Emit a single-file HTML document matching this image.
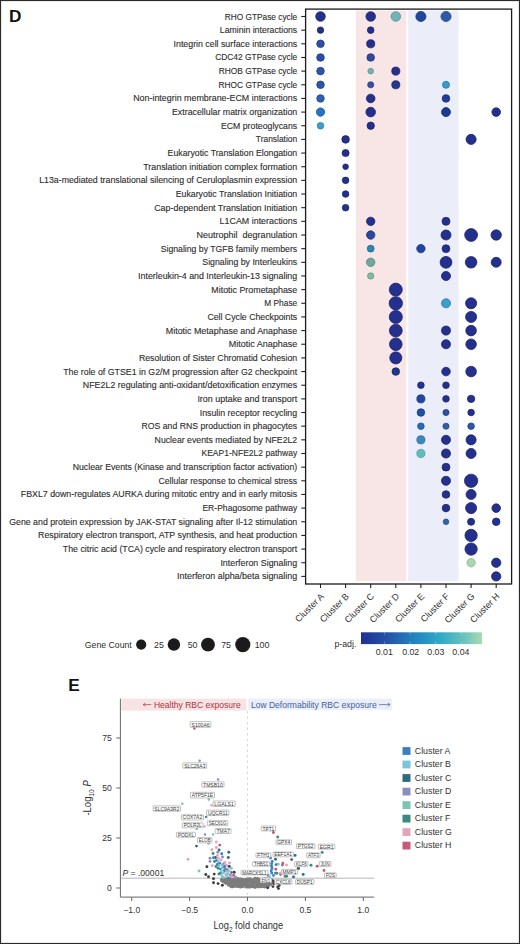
<!DOCTYPE html><html><head><meta charset="utf-8"><style>
html,body{margin:0;padding:0;background:#fff;}body{width:520px;height:944px;overflow:hidden;position:relative;}
svg{position:absolute;left:0;top:0;display:block;}
text{font-family:"Liberation Sans",sans-serif;}
</style></head><body>
<svg width="520" height="944" viewBox="0 0 520 944">
<rect x="0" y="0" width="520" height="944" fill="#fff"/>
<rect x="355.8" y="10.6" width="50.5" height="570.6" fill="#f8e6e6"/>
<rect x="408.2" y="10.6" width="50.3" height="570.6" fill="#ebeef9"/>
<g fill="#2e2e2e" font-size="8.6" stroke="#2e2e2e" stroke-width="0.12">
<text x="224.8" y="19.50" textLength="72.4" lengthAdjust="spacingAndGlyphs">RHO GTPase cycle</text>
<text x="219.8" y="33.16" textLength="77.4" lengthAdjust="spacingAndGlyphs">Laminin interactions</text>
<text x="173.6" y="46.81" textLength="123.6" lengthAdjust="spacingAndGlyphs">Integrin cell surface interactions</text>
<text x="215.2" y="60.47" textLength="82.0" lengthAdjust="spacingAndGlyphs">CDC42 GTPase cycle</text>
<text x="218.8" y="74.12" textLength="78.4" lengthAdjust="spacingAndGlyphs">RHOB GTPase cycle</text>
<text x="218.6" y="87.78" textLength="78.6" lengthAdjust="spacingAndGlyphs">RHOC GTPase cycle</text>
<text x="133.2" y="101.44" textLength="164.0" lengthAdjust="spacingAndGlyphs">Non-integrin membrane-ECM interactions</text>
<text x="172.0" y="115.09" textLength="125.2" lengthAdjust="spacingAndGlyphs">Extracellular matrix organization</text>
<text x="220.9" y="128.75" textLength="76.3" lengthAdjust="spacingAndGlyphs">ECM proteoglycans</text>
<text x="255.8" y="142.40" textLength="41.4" lengthAdjust="spacingAndGlyphs">Translation</text>
<text x="167.6" y="156.06" textLength="129.6" lengthAdjust="spacingAndGlyphs">Eukaryotic Translation Elongation</text>
<text x="143.2" y="169.72" textLength="154.0" lengthAdjust="spacingAndGlyphs">Translation initiation complex formation</text>
<text x="39.2" y="183.37" textLength="258.0" lengthAdjust="spacingAndGlyphs">L13a-mediated translational silencing of Ceruloplasmin expression</text>
<text x="175.7" y="197.03" textLength="121.5" lengthAdjust="spacingAndGlyphs">Eukaryotic Translation Initiation</text>
<text x="154.2" y="210.68" textLength="143.0" lengthAdjust="spacingAndGlyphs">Cap-dependent Translation Initiation</text>
<text x="219.6" y="224.34" textLength="77.6" lengthAdjust="spacingAndGlyphs">L1CAM interactions</text>
<text x="196.5" y="238.00" textLength="100.7" lengthAdjust="spacingAndGlyphs">Neutrophil  degranulation</text>
<text x="160.7" y="251.65" textLength="136.5" lengthAdjust="spacingAndGlyphs">Signaling by TGFB family members</text>
<text x="202.3" y="265.31" textLength="94.9" lengthAdjust="spacingAndGlyphs">Signaling by Interleukins</text>
<text x="138.1" y="278.96" textLength="159.1" lengthAdjust="spacingAndGlyphs">Interleukin-4 and Interleukin-13 signaling</text>
<text x="211.3" y="292.62" textLength="85.9" lengthAdjust="spacingAndGlyphs">Mitotic Prometaphase</text>
<text x="264.3" y="306.28" textLength="32.9" lengthAdjust="spacingAndGlyphs">M Phase</text>
<text x="207.4" y="319.93" textLength="89.8" lengthAdjust="spacingAndGlyphs">Cell Cycle Checkpoints</text>
<text x="165.8" y="333.59" textLength="131.4" lengthAdjust="spacingAndGlyphs">Mitotic Metaphase and Anaphase</text>
<text x="228.8" y="347.24" textLength="68.4" lengthAdjust="spacingAndGlyphs">Mitotic Anaphase</text>
<text x="138.9" y="360.90" textLength="158.3" lengthAdjust="spacingAndGlyphs">Resolution of Sister Chromatid Cohesion</text>
<text x="63.2" y="374.56" textLength="234.0" lengthAdjust="spacingAndGlyphs">The role of GTSE1 in G2/M progression after G2 checkpoint</text>
<text x="82.8" y="388.21" textLength="214.4" lengthAdjust="spacingAndGlyphs">NFE2L2 regulating anti-oxidant/detoxification enzymes</text>
<text x="197.4" y="401.87" textLength="99.8" lengthAdjust="spacingAndGlyphs">Iron uptake and transport</text>
<text x="199.7" y="415.52" textLength="97.5" lengthAdjust="spacingAndGlyphs">Insulin receptor recycling</text>
<text x="141.5" y="429.18" textLength="155.7" lengthAdjust="spacingAndGlyphs">ROS and RNS production in phagocytes</text>
<text x="154.6" y="442.84" textLength="142.6" lengthAdjust="spacingAndGlyphs">Nuclear events mediated by NFE2L2</text>
<text x="201.5" y="456.49" textLength="95.7" lengthAdjust="spacingAndGlyphs">KEAP1-NFE2L2 pathway</text>
<text x="72.7" y="470.15" textLength="224.5" lengthAdjust="spacingAndGlyphs">Nuclear Events (Kinase and transcription factor activation)</text>
<text x="158.6" y="483.80" textLength="138.6" lengthAdjust="spacingAndGlyphs">Cellular response to chemical stress</text>
<text x="20.8" y="497.46" textLength="276.4" lengthAdjust="spacingAndGlyphs">FBXL7 down-regulates AURKA during mitotic entry and in early mitosis</text>
<text x="202.4" y="511.12" textLength="94.8" lengthAdjust="spacingAndGlyphs">ER-Phagosome pathway</text>
<text x="9.2" y="524.77" textLength="288.0" lengthAdjust="spacingAndGlyphs">Gene and protein expression by JAK-STAT signaling after Il-12 stimulation</text>
<text x="38.1" y="538.43" textLength="259.1" lengthAdjust="spacingAndGlyphs">Respiratory electron transport, ATP synthesis, and heat production</text>
<text x="62.8" y="552.08" textLength="234.4" lengthAdjust="spacingAndGlyphs">The citric acid (TCA) cycle and respiratory electron transport</text>
<text x="220.4" y="565.74" textLength="76.8" lengthAdjust="spacingAndGlyphs">Interferon Signaling</text>
<text x="177.0" y="579.40" textLength="120.2" lengthAdjust="spacingAndGlyphs">Interferon alpha/beta signaling</text>
</g>
<g stroke="#222" stroke-width="1.1">
<line x1="301.3" y1="16.50" x2="305.6" y2="16.50"/>
<line x1="301.3" y1="30.16" x2="305.6" y2="30.16"/>
<line x1="301.3" y1="43.81" x2="305.6" y2="43.81"/>
<line x1="301.3" y1="57.47" x2="305.6" y2="57.47"/>
<line x1="301.3" y1="71.12" x2="305.6" y2="71.12"/>
<line x1="301.3" y1="84.78" x2="305.6" y2="84.78"/>
<line x1="301.3" y1="98.44" x2="305.6" y2="98.44"/>
<line x1="301.3" y1="112.09" x2="305.6" y2="112.09"/>
<line x1="301.3" y1="125.75" x2="305.6" y2="125.75"/>
<line x1="301.3" y1="139.40" x2="305.6" y2="139.40"/>
<line x1="301.3" y1="153.06" x2="305.6" y2="153.06"/>
<line x1="301.3" y1="166.72" x2="305.6" y2="166.72"/>
<line x1="301.3" y1="180.37" x2="305.6" y2="180.37"/>
<line x1="301.3" y1="194.03" x2="305.6" y2="194.03"/>
<line x1="301.3" y1="207.68" x2="305.6" y2="207.68"/>
<line x1="301.3" y1="221.34" x2="305.6" y2="221.34"/>
<line x1="301.3" y1="235.00" x2="305.6" y2="235.00"/>
<line x1="301.3" y1="248.65" x2="305.6" y2="248.65"/>
<line x1="301.3" y1="262.31" x2="305.6" y2="262.31"/>
<line x1="301.3" y1="275.96" x2="305.6" y2="275.96"/>
<line x1="301.3" y1="289.62" x2="305.6" y2="289.62"/>
<line x1="301.3" y1="303.28" x2="305.6" y2="303.28"/>
<line x1="301.3" y1="316.93" x2="305.6" y2="316.93"/>
<line x1="301.3" y1="330.59" x2="305.6" y2="330.59"/>
<line x1="301.3" y1="344.24" x2="305.6" y2="344.24"/>
<line x1="301.3" y1="357.90" x2="305.6" y2="357.90"/>
<line x1="301.3" y1="371.56" x2="305.6" y2="371.56"/>
<line x1="301.3" y1="385.21" x2="305.6" y2="385.21"/>
<line x1="301.3" y1="398.87" x2="305.6" y2="398.87"/>
<line x1="301.3" y1="412.52" x2="305.6" y2="412.52"/>
<line x1="301.3" y1="426.18" x2="305.6" y2="426.18"/>
<line x1="301.3" y1="439.84" x2="305.6" y2="439.84"/>
<line x1="301.3" y1="453.49" x2="305.6" y2="453.49"/>
<line x1="301.3" y1="467.15" x2="305.6" y2="467.15"/>
<line x1="301.3" y1="480.80" x2="305.6" y2="480.80"/>
<line x1="301.3" y1="494.46" x2="305.6" y2="494.46"/>
<line x1="301.3" y1="508.12" x2="305.6" y2="508.12"/>
<line x1="301.3" y1="521.77" x2="305.6" y2="521.77"/>
<line x1="301.3" y1="535.43" x2="305.6" y2="535.43"/>
<line x1="301.3" y1="549.08" x2="305.6" y2="549.08"/>
<line x1="301.3" y1="562.74" x2="305.6" y2="562.74"/>
<line x1="301.3" y1="576.40" x2="305.6" y2="576.40"/>
<line x1="320.50" y1="584.0" x2="320.50" y2="588"/>
<line x1="345.60" y1="584.0" x2="345.60" y2="588"/>
<line x1="370.70" y1="584.0" x2="370.70" y2="588"/>
<line x1="395.80" y1="584.0" x2="395.80" y2="588"/>
<line x1="420.90" y1="584.0" x2="420.90" y2="588"/>
<line x1="446.00" y1="584.0" x2="446.00" y2="588"/>
<line x1="471.10" y1="584.0" x2="471.10" y2="588"/>
<line x1="496.20" y1="584.0" x2="496.20" y2="588"/>
</g>
<g>
<circle cx="320.50" cy="16.50" r="4.80" fill="#24308e" stroke="#182061" stroke-width="0.75"/>
<circle cx="370.70" cy="16.50" r="4.80" fill="#24308e" stroke="#182061" stroke-width="0.75"/>
<circle cx="395.80" cy="16.50" r="4.80" fill="#72b3b6" stroke="#5a8e91" stroke-width="0.75"/>
<circle cx="420.90" cy="16.50" r="5.05" fill="#2045a0" stroke="#16306f" stroke-width="0.75"/>
<circle cx="446.00" cy="16.50" r="5.05" fill="#2d5ba8" stroke="#204178" stroke-width="0.75"/>
<circle cx="320.50" cy="30.16" r="3.20" fill="#24308e" stroke="#182061" stroke-width="0.75"/>
<circle cx="370.70" cy="30.16" r="3.30" fill="#24308e" stroke="#182061" stroke-width="0.75"/>
<circle cx="320.50" cy="43.81" r="3.80" fill="#2d4fa5" stroke="#203875" stroke-width="0.75"/>
<circle cx="370.70" cy="43.81" r="4.05" fill="#24308e" stroke="#182061" stroke-width="0.75"/>
<circle cx="320.50" cy="57.47" r="3.80" fill="#2a4ea8" stroke="#1d3777" stroke-width="0.75"/>
<circle cx="370.70" cy="57.47" r="3.80" fill="#33489a" stroke="#24326c" stroke-width="0.75"/>
<circle cx="320.50" cy="71.12" r="3.80" fill="#2d55a8" stroke="#203c78" stroke-width="0.75"/>
<circle cx="370.70" cy="71.12" r="2.80" fill="#70b4b8" stroke="#598f92" stroke-width="0.75"/>
<circle cx="395.80" cy="71.12" r="4.05" fill="#24308e" stroke="#182061" stroke-width="0.75"/>
<circle cx="320.50" cy="84.78" r="3.80" fill="#2d55a8" stroke="#203c78" stroke-width="0.75"/>
<circle cx="370.70" cy="84.78" r="3.05" fill="#3550a5" stroke="#253976" stroke-width="0.75"/>
<circle cx="395.80" cy="84.78" r="4.05" fill="#233a90" stroke="#182763" stroke-width="0.75"/>
<circle cx="446.00" cy="84.78" r="3.55" fill="#3a9ad0" stroke="#2c76a0" stroke-width="0.75"/>
<circle cx="320.50" cy="98.44" r="3.80" fill="#2f5fb0" stroke="#22447f" stroke-width="0.75"/>
<circle cx="370.70" cy="98.44" r="4.30" fill="#24308e" stroke="#182061" stroke-width="0.75"/>
<circle cx="446.00" cy="98.44" r="3.80" fill="#1f3f98" stroke="#152b69" stroke-width="0.75"/>
<circle cx="320.50" cy="112.09" r="4.20" fill="#2474bf" stroke="#1a558c" stroke-width="0.75"/>
<circle cx="370.70" cy="112.09" r="4.80" fill="#24308e" stroke="#182061" stroke-width="0.75"/>
<circle cx="446.00" cy="112.09" r="4.50" fill="#1d3a93" stroke="#132764" stroke-width="0.75"/>
<circle cx="496.20" cy="112.09" r="4.30" fill="#24308e" stroke="#182061" stroke-width="0.75"/>
<circle cx="320.50" cy="125.75" r="3.30" fill="#3a9fd0" stroke="#2c7ba1" stroke-width="0.75"/>
<circle cx="370.70" cy="125.75" r="3.70" fill="#24308e" stroke="#182061" stroke-width="0.75"/>
<circle cx="345.60" cy="139.40" r="3.80" fill="#24308e" stroke="#182061" stroke-width="0.75"/>
<circle cx="471.10" cy="139.40" r="5.05" fill="#24308e" stroke="#182061" stroke-width="0.75"/>
<circle cx="345.60" cy="153.06" r="3.55" fill="#24308e" stroke="#182061" stroke-width="0.75"/>
<circle cx="345.60" cy="166.72" r="2.80" fill="#24308e" stroke="#182061" stroke-width="0.75"/>
<circle cx="345.60" cy="180.37" r="3.30" fill="#24308e" stroke="#182061" stroke-width="0.75"/>
<circle cx="345.60" cy="194.03" r="3.30" fill="#24308e" stroke="#182061" stroke-width="0.75"/>
<circle cx="345.60" cy="207.68" r="3.30" fill="#24308e" stroke="#182061" stroke-width="0.75"/>
<circle cx="370.70" cy="221.34" r="4.20" fill="#24308e" stroke="#182061" stroke-width="0.75"/>
<circle cx="446.00" cy="221.34" r="4.00" fill="#24308e" stroke="#182061" stroke-width="0.75"/>
<circle cx="370.70" cy="235.00" r="4.20" fill="#2c47a0" stroke="#1f3270" stroke-width="0.75"/>
<circle cx="446.00" cy="235.00" r="5.00" fill="#24308e" stroke="#182061" stroke-width="0.75"/>
<circle cx="471.10" cy="235.00" r="6.40" fill="#24308e" stroke="#182061" stroke-width="0.75"/>
<circle cx="496.20" cy="235.00" r="5.20" fill="#24308e" stroke="#182061" stroke-width="0.75"/>
<circle cx="370.70" cy="248.65" r="3.45" fill="#2b87b4" stroke="#1f6485" stroke-width="0.75"/>
<circle cx="420.90" cy="248.65" r="4.20" fill="#2145a0" stroke="#17306f" stroke-width="0.75"/>
<circle cx="446.00" cy="248.65" r="3.90" fill="#24308e" stroke="#182061" stroke-width="0.75"/>
<circle cx="370.70" cy="262.31" r="4.20" fill="#6ea99c" stroke="#558379" stroke-width="0.75"/>
<circle cx="446.00" cy="262.31" r="5.90" fill="#24308e" stroke="#182061" stroke-width="0.75"/>
<circle cx="471.10" cy="262.31" r="5.80" fill="#24308e" stroke="#182061" stroke-width="0.75"/>
<circle cx="496.20" cy="262.31" r="5.00" fill="#24308e" stroke="#182061" stroke-width="0.75"/>
<circle cx="370.70" cy="275.96" r="3.15" fill="#80bda4" stroke="#669783" stroke-width="0.75"/>
<circle cx="446.00" cy="275.96" r="4.55" fill="#24308e" stroke="#182061" stroke-width="0.75"/>
<circle cx="395.80" cy="289.62" r="6.50" fill="#24308e" stroke="#182061" stroke-width="0.75"/>
<circle cx="395.80" cy="303.28" r="6.65" fill="#24308e" stroke="#182061" stroke-width="0.75"/>
<circle cx="446.00" cy="303.28" r="4.55" fill="#3a9fcc" stroke="#2c7a9d" stroke-width="0.75"/>
<circle cx="471.10" cy="303.28" r="5.55" fill="#24308e" stroke="#182061" stroke-width="0.75"/>
<circle cx="395.80" cy="316.93" r="6.55" fill="#24308e" stroke="#182061" stroke-width="0.75"/>
<circle cx="471.10" cy="316.93" r="5.55" fill="#24308e" stroke="#182061" stroke-width="0.75"/>
<circle cx="395.80" cy="330.59" r="6.40" fill="#24308e" stroke="#182061" stroke-width="0.75"/>
<circle cx="446.00" cy="330.59" r="4.55" fill="#24308e" stroke="#182061" stroke-width="0.75"/>
<circle cx="471.10" cy="330.59" r="5.30" fill="#24308e" stroke="#182061" stroke-width="0.75"/>
<circle cx="395.80" cy="344.24" r="6.30" fill="#24308e" stroke="#182061" stroke-width="0.75"/>
<circle cx="446.00" cy="344.24" r="4.55" fill="#24308e" stroke="#182061" stroke-width="0.75"/>
<circle cx="471.10" cy="344.24" r="5.30" fill="#24308e" stroke="#182061" stroke-width="0.75"/>
<circle cx="395.80" cy="357.90" r="6.05" fill="#24308e" stroke="#182061" stroke-width="0.75"/>
<circle cx="395.80" cy="371.56" r="3.80" fill="#1f3590" stroke="#152462" stroke-width="0.75"/>
<circle cx="446.00" cy="371.56" r="4.30" fill="#24308e" stroke="#182061" stroke-width="0.75"/>
<circle cx="471.10" cy="371.56" r="5.30" fill="#24308e" stroke="#182061" stroke-width="0.75"/>
<circle cx="420.90" cy="385.21" r="3.30" fill="#24308e" stroke="#182061" stroke-width="0.75"/>
<circle cx="446.00" cy="385.21" r="3.30" fill="#24308e" stroke="#182061" stroke-width="0.75"/>
<circle cx="420.90" cy="398.87" r="4.05" fill="#2147a0" stroke="#173170" stroke-width="0.75"/>
<circle cx="446.00" cy="398.87" r="3.30" fill="#24308e" stroke="#182061" stroke-width="0.75"/>
<circle cx="471.10" cy="398.87" r="3.70" fill="#24308e" stroke="#182061" stroke-width="0.75"/>
<circle cx="420.90" cy="412.52" r="3.80" fill="#2050a5" stroke="#163874" stroke-width="0.75"/>
<circle cx="446.00" cy="412.52" r="3.05" fill="#2a50a8" stroke="#1d3977" stroke-width="0.75"/>
<circle cx="471.10" cy="412.52" r="3.30" fill="#24308e" stroke="#182061" stroke-width="0.75"/>
<circle cx="420.90" cy="426.18" r="3.30" fill="#2a6ab5" stroke="#1e4d84" stroke-width="0.75"/>
<circle cx="446.00" cy="426.18" r="3.05" fill="#2f5fa8" stroke="#214479" stroke-width="0.75"/>
<circle cx="471.10" cy="426.18" r="3.30" fill="#2d58a8" stroke="#203f78" stroke-width="0.75"/>
<circle cx="420.90" cy="439.84" r="4.05" fill="#3a88c0" stroke="#2b6691" stroke-width="0.75"/>
<circle cx="446.00" cy="439.84" r="4.55" fill="#24308e" stroke="#182061" stroke-width="0.75"/>
<circle cx="471.10" cy="439.84" r="5.05" fill="#24308e" stroke="#182061" stroke-width="0.75"/>
<circle cx="420.90" cy="453.49" r="4.05" fill="#5fbfbf" stroke="#4b9898" stroke-width="0.75"/>
<circle cx="446.00" cy="453.49" r="4.55" fill="#24308e" stroke="#182061" stroke-width="0.75"/>
<circle cx="471.10" cy="453.49" r="5.05" fill="#24308e" stroke="#182061" stroke-width="0.75"/>
<circle cx="446.00" cy="467.15" r="3.90" fill="#24308e" stroke="#182061" stroke-width="0.75"/>
<circle cx="446.00" cy="480.80" r="4.55" fill="#24308e" stroke="#182061" stroke-width="0.75"/>
<circle cx="471.10" cy="480.80" r="6.65" fill="#24308e" stroke="#182061" stroke-width="0.75"/>
<circle cx="446.00" cy="494.46" r="3.80" fill="#24308e" stroke="#182061" stroke-width="0.75"/>
<circle cx="471.10" cy="494.46" r="5.05" fill="#24308e" stroke="#182061" stroke-width="0.75"/>
<circle cx="446.00" cy="508.12" r="3.80" fill="#24308e" stroke="#182061" stroke-width="0.75"/>
<circle cx="471.10" cy="508.12" r="5.55" fill="#24308e" stroke="#182061" stroke-width="0.75"/>
<circle cx="496.20" cy="508.12" r="4.30" fill="#24308e" stroke="#182061" stroke-width="0.75"/>
<circle cx="446.00" cy="521.77" r="2.80" fill="#3066b0" stroke="#224a80" stroke-width="0.75"/>
<circle cx="471.10" cy="521.77" r="3.55" fill="#24308e" stroke="#182061" stroke-width="0.75"/>
<circle cx="496.20" cy="521.77" r="3.80" fill="#24308e" stroke="#182061" stroke-width="0.75"/>
<circle cx="471.10" cy="535.43" r="6.15" fill="#24308e" stroke="#182061" stroke-width="0.75"/>
<circle cx="471.10" cy="549.08" r="6.15" fill="#24308e" stroke="#182061" stroke-width="0.75"/>
<circle cx="471.10" cy="562.74" r="4.20" fill="#a8d8b0" stroke="#8cb493" stroke-width="0.75"/>
<circle cx="496.20" cy="562.74" r="4.65" fill="#24308e" stroke="#182061" stroke-width="0.75"/>
<circle cx="496.20" cy="576.40" r="4.65" fill="#24308e" stroke="#182061" stroke-width="0.75"/>
</g>
<rect x="305.6" y="9.1" width="206.0" height="574.9" fill="none" stroke="#1a1a1a" stroke-width="1.3"/>
<g fill="#2e2e2e" font-size="9.0">
<text x="0" y="0" text-anchor="end" transform="translate(324.50,596.9) rotate(-45)">Cluster A</text>
<text x="0" y="0" text-anchor="end" transform="translate(349.60,596.9) rotate(-45)">Cluster B</text>
<text x="0" y="0" text-anchor="end" transform="translate(374.70,596.9) rotate(-45)">Cluster C</text>
<text x="0" y="0" text-anchor="end" transform="translate(399.80,596.9) rotate(-45)">Cluster D</text>
<text x="0" y="0" text-anchor="end" transform="translate(424.90,596.9) rotate(-45)">Cluster E</text>
<text x="0" y="0" text-anchor="end" transform="translate(450.00,596.9) rotate(-45)">Cluster F</text>
<text x="0" y="0" text-anchor="end" transform="translate(475.10,596.9) rotate(-45)">Cluster G</text>
<text x="0" y="0" text-anchor="end" transform="translate(500.20,596.9) rotate(-45)">Cluster H</text>
</g>
<text x="9.0" y="22.0" font-size="17.2" font-weight="bold" fill="#111">D</text>
<g fill="#2e2e2e" font-size="8.8">
<text x="84.8" y="647.6" textLength="47" lengthAdjust="spacingAndGlyphs">Gene Count</text>
<text x="154" y="647.6">25</text>
<text x="187.7" y="647.6">50</text>
<text x="221.2" y="647.6">75</text>
<text x="254.7" y="647.6">100</text>
</g>
<circle cx="141.2" cy="644.6" r="5.1" fill="#1b1b1b"/>
<circle cx="173.9" cy="644.6" r="6.25" fill="#1b1b1b"/>
<circle cx="208" cy="644.6" r="6.95" fill="#1b1b1b"/>
<circle cx="242.8" cy="644.6" r="7.6" fill="#1b1b1b"/>
<defs><linearGradient id="cb" x1="0" x2="1" y1="0" y2="0"><stop offset="0" stop-color="#1e3190"/><stop offset="0.22" stop-color="#2452a8"/><stop offset="0.45" stop-color="#2186c0"/><stop offset="0.65" stop-color="#2ea8c8"/><stop offset="0.82" stop-color="#5cbfbf"/><stop offset="1" stop-color="#a9dab2"/></linearGradient></defs>
<rect x="361" y="632.3" width="121" height="11.8" fill="url(#cb)"/>
<g stroke="#fff" stroke-width="0.6" opacity="0.6">
<line x1="384.3" y1="632.3" x2="384.3" y2="634.8"/><line x1="384.3" y1="641.6" x2="384.3" y2="644.1"/>
<line x1="410.0" y1="632.3" x2="410.0" y2="634.8"/><line x1="410.0" y1="641.6" x2="410.0" y2="644.1"/>
<line x1="435.6" y1="632.3" x2="435.6" y2="634.8"/><line x1="435.6" y1="641.6" x2="435.6" y2="644.1"/>
<line x1="461.2" y1="632.3" x2="461.2" y2="634.8"/><line x1="461.2" y1="641.6" x2="461.2" y2="644.1"/>
</g>
<g fill="#2e2e2e" font-size="8.8">
<text x="334.4" y="646.6">p-adj.</text>
<text x="384.3" y="654.6" text-anchor="middle">0.01</text>
<text x="410.7" y="654.6" text-anchor="middle">0.02</text>
<text x="435.8" y="654.6" text-anchor="middle">0.03</text>
<text x="460.9" y="654.6" text-anchor="middle">0.04</text>
</g>
<text x="68.2" y="690.9" font-size="17.2" font-weight="bold" fill="#111">E</text>
<rect x="121.4" y="698.6" width="125.1" height="12" fill="#f7e3e3"/>
<rect x="248.2" y="698.6" width="143.8" height="11.2" fill="#e9eef8"/>
<text x="153.9" y="708" font-size="9" fill="#ad3540" textLength="86.8" lengthAdjust="spacingAndGlyphs">Healthy RBC exposure</text>
<path d="M143.2,704.6 H151.2 M143.2,704.6 l2.2,-1.6 M143.2,704.6 l2.2,1.6" stroke="#ad3540" stroke-width="0.7" fill="none"/>
<text x="250.9" y="708" font-size="9" fill="#46639f" textLength="125.8" lengthAdjust="spacingAndGlyphs">Low Deformability RBC exposure</text>
<path d="M379,704.6 H390 M390,704.6 l-2.2,-1.6 M390,704.6 l-2.2,1.6" stroke="#46639f" stroke-width="0.7" fill="none"/>
<line x1="247.5" y1="711" x2="247.5" y2="897" stroke="#cfcfcf" stroke-width="0.8" stroke-dasharray="2.6,2.9"/>
<line x1="120.4" y1="878.2" x2="374.1" y2="878.2" stroke="#9a9a9a" stroke-width="0.7"/>
<g>
<circle cx="248.5" cy="881.1" r="1.4" fill="#7d7d7d"/>
<circle cx="225.1" cy="879.1" r="1.4" fill="#7d7d7d"/>
<circle cx="250.9" cy="881.6" r="1.4" fill="#7d7d7d"/>
<circle cx="266.9" cy="880.1" r="1.4" fill="#7d7d7d"/>
<circle cx="228.3" cy="884.1" r="1.4" fill="#7d7d7d"/>
<circle cx="254.4" cy="881.2" r="1.4" fill="#7d7d7d"/>
<circle cx="256.8" cy="882.0" r="1.4" fill="#7d7d7d"/>
<circle cx="235.9" cy="884.2" r="1.4" fill="#7d7d7d"/>
<circle cx="243.8" cy="880.2" r="1.4" fill="#7d7d7d"/>
<circle cx="263.3" cy="885.8" r="1.4" fill="#7d7d7d"/>
<circle cx="231.9" cy="884.0" r="1.4" fill="#7d7d7d"/>
<circle cx="259.6" cy="880.0" r="1.4" fill="#7d7d7d"/>
<circle cx="241.8" cy="886.6" r="1.4" fill="#7d7d7d"/>
<circle cx="226.7" cy="882.8" r="1.4" fill="#7d7d7d"/>
<circle cx="261.6" cy="884.0" r="1.4" fill="#7d7d7d"/>
<circle cx="267.9" cy="880.4" r="1.4" fill="#7d7d7d"/>
<circle cx="257.6" cy="884.3" r="1.4" fill="#7d7d7d"/>
<circle cx="251.1" cy="882.4" r="1.4" fill="#7d7d7d"/>
<circle cx="245.0" cy="885.3" r="1.4" fill="#7d7d7d"/>
<circle cx="264.8" cy="880.0" r="1.4" fill="#7d7d7d"/>
<circle cx="240.0" cy="885.4" r="1.4" fill="#7d7d7d"/>
<circle cx="225.4" cy="879.5" r="1.4" fill="#7d7d7d"/>
<circle cx="233.9" cy="881.8" r="1.4" fill="#7d7d7d"/>
<circle cx="228.0" cy="879.2" r="1.4" fill="#7d7d7d"/>
<circle cx="231.3" cy="882.8" r="1.4" fill="#7d7d7d"/>
<circle cx="251.6" cy="879.7" r="1.4" fill="#7d7d7d"/>
<circle cx="239.0" cy="883.9" r="1.4" fill="#7d7d7d"/>
<circle cx="247.4" cy="884.6" r="1.4" fill="#7d7d7d"/>
<circle cx="267.8" cy="887.2" r="1.4" fill="#7d7d7d"/>
<circle cx="240.4" cy="881.6" r="1.4" fill="#7d7d7d"/>
<circle cx="223.8" cy="881.1" r="1.4" fill="#7d7d7d"/>
<circle cx="232.4" cy="880.9" r="1.4" fill="#7d7d7d"/>
<circle cx="244.6" cy="882.8" r="1.4" fill="#7d7d7d"/>
<circle cx="237.5" cy="879.7" r="1.4" fill="#7d7d7d"/>
<circle cx="267.2" cy="885.7" r="1.4" fill="#7d7d7d"/>
<circle cx="232.9" cy="881.1" r="1.4" fill="#7d7d7d"/>
<circle cx="248.4" cy="886.9" r="1.4" fill="#7d7d7d"/>
<circle cx="236.8" cy="879.1" r="1.4" fill="#7d7d7d"/>
<circle cx="264.6" cy="886.4" r="1.4" fill="#7d7d7d"/>
<circle cx="230.9" cy="883.2" r="1.4" fill="#7d7d7d"/>
<circle cx="232.8" cy="885.7" r="1.4" fill="#7d7d7d"/>
<circle cx="230.6" cy="879.2" r="1.4" fill="#7d7d7d"/>
<circle cx="265.9" cy="882.7" r="1.4" fill="#7d7d7d"/>
<circle cx="255.2" cy="887.2" r="1.4" fill="#7d7d7d"/>
<circle cx="260.8" cy="882.7" r="1.4" fill="#7d7d7d"/>
<circle cx="238.0" cy="883.7" r="1.4" fill="#7d7d7d"/>
<circle cx="265.1" cy="879.0" r="1.4" fill="#7d7d7d"/>
<circle cx="232.4" cy="880.1" r="1.4" fill="#7d7d7d"/>
<circle cx="231.7" cy="884.2" r="1.4" fill="#7d7d7d"/>
<circle cx="232.8" cy="881.9" r="1.4" fill="#7d7d7d"/>
<circle cx="238.2" cy="882.4" r="1.4" fill="#7d7d7d"/>
<circle cx="246.6" cy="883.4" r="1.4" fill="#7d7d7d"/>
<circle cx="227.8" cy="882.6" r="1.4" fill="#7d7d7d"/>
<circle cx="259.3" cy="883.8" r="1.4" fill="#7d7d7d"/>
<circle cx="236.6" cy="883.3" r="1.4" fill="#7d7d7d"/>
<circle cx="249.7" cy="887.0" r="1.4" fill="#7d7d7d"/>
<circle cx="232.2" cy="879.9" r="1.4" fill="#7d7d7d"/>
<circle cx="262.0" cy="883.1" r="1.4" fill="#7d7d7d"/>
<circle cx="250.0" cy="886.6" r="1.4" fill="#7d7d7d"/>
<circle cx="270.0" cy="882.2" r="1.4" fill="#7d7d7d"/>
<circle cx="252.9" cy="883.1" r="1.4" fill="#7d7d7d"/>
<circle cx="247.2" cy="885.7" r="1.4" fill="#7d7d7d"/>
<circle cx="243.8" cy="883.5" r="1.4" fill="#7d7d7d"/>
<circle cx="271.7" cy="879.6" r="1.4" fill="#7d7d7d"/>
<circle cx="224.9" cy="882.2" r="1.4" fill="#7d7d7d"/>
<circle cx="222.1" cy="879.4" r="1.4" fill="#7d7d7d"/>
<circle cx="240.7" cy="882.8" r="1.4" fill="#7d7d7d"/>
<circle cx="227.2" cy="882.0" r="1.4" fill="#7d7d7d"/>
<circle cx="247.4" cy="880.7" r="1.4" fill="#7d7d7d"/>
<circle cx="229.2" cy="880.5" r="1.4" fill="#7d7d7d"/>
<circle cx="249.6" cy="882.2" r="1.4" fill="#7d7d7d"/>
<circle cx="253.6" cy="883.2" r="1.4" fill="#7d7d7d"/>
<circle cx="224.0" cy="879.7" r="1.4" fill="#7d7d7d"/>
<circle cx="264.7" cy="879.6" r="1.4" fill="#7d7d7d"/>
<circle cx="250.5" cy="885.8" r="1.4" fill="#7d7d7d"/>
<circle cx="257.2" cy="882.0" r="1.4" fill="#7d7d7d"/>
<circle cx="243.9" cy="880.7" r="1.4" fill="#7d7d7d"/>
<circle cx="248.0" cy="879.3" r="1.4" fill="#7d7d7d"/>
<circle cx="235.8" cy="880.3" r="1.4" fill="#7d7d7d"/>
<circle cx="261.3" cy="880.1" r="1.4" fill="#7d7d7d"/>
<circle cx="259.8" cy="883.7" r="1.4" fill="#7d7d7d"/>
<circle cx="228.8" cy="882.6" r="1.4" fill="#7d7d7d"/>
<circle cx="264.7" cy="882.1" r="1.4" fill="#7d7d7d"/>
<circle cx="240.4" cy="883.1" r="1.4" fill="#7d7d7d"/>
<circle cx="258.3" cy="884.9" r="1.4" fill="#7d7d7d"/>
<circle cx="241.1" cy="880.9" r="1.4" fill="#7d7d7d"/>
<circle cx="267.6" cy="885.4" r="1.4" fill="#7d7d7d"/>
<circle cx="234.1" cy="879.4" r="1.4" fill="#7d7d7d"/>
<circle cx="234.7" cy="882.4" r="1.4" fill="#7d7d7d"/>
<circle cx="227.0" cy="882.2" r="1.4" fill="#7d7d7d"/>
<circle cx="235.6" cy="881.0" r="1.4" fill="#7d7d7d"/>
<circle cx="245.1" cy="883.0" r="1.4" fill="#7d7d7d"/>
<circle cx="229.5" cy="883.1" r="1.4" fill="#7d7d7d"/>
<circle cx="223.1" cy="881.6" r="1.4" fill="#7d7d7d"/>
<circle cx="235.3" cy="879.3" r="1.4" fill="#7d7d7d"/>
<circle cx="251.4" cy="883.4" r="1.4" fill="#7d7d7d"/>
<circle cx="260.8" cy="885.2" r="1.4" fill="#7d7d7d"/>
<circle cx="240.2" cy="880.6" r="1.4" fill="#7d7d7d"/>
<circle cx="259.3" cy="885.0" r="1.4" fill="#7d7d7d"/>
<circle cx="268.8" cy="884.8" r="1.4" fill="#7d7d7d"/>
<circle cx="225.9" cy="883.3" r="1.4" fill="#7d7d7d"/>
<circle cx="256.9" cy="885.7" r="1.4" fill="#7d7d7d"/>
<circle cx="225.6" cy="881.0" r="1.4" fill="#7d7d7d"/>
<circle cx="249.8" cy="884.8" r="1.4" fill="#7d7d7d"/>
<circle cx="253.7" cy="885.5" r="1.4" fill="#7d7d7d"/>
<circle cx="263.5" cy="886.5" r="1.4" fill="#7d7d7d"/>
<circle cx="246.7" cy="883.5" r="1.4" fill="#7d7d7d"/>
<circle cx="260.0" cy="879.5" r="1.4" fill="#7d7d7d"/>
<circle cx="222.2" cy="879.7" r="1.4" fill="#7d7d7d"/>
<circle cx="246.2" cy="881.4" r="1.4" fill="#7d7d7d"/>
<circle cx="245.3" cy="885.6" r="1.4" fill="#7d7d7d"/>
<circle cx="261.7" cy="884.6" r="1.4" fill="#7d7d7d"/>
<circle cx="226.4" cy="879.6" r="1.4" fill="#7d7d7d"/>
<circle cx="260.4" cy="880.3" r="1.4" fill="#7d7d7d"/>
<circle cx="221.5" cy="879.8" r="1.4" fill="#7d7d7d"/>
<circle cx="256.3" cy="885.7" r="1.4" fill="#7d7d7d"/>
<circle cx="256.5" cy="880.1" r="1.4" fill="#7d7d7d"/>
<circle cx="247.4" cy="882.5" r="1.4" fill="#7d7d7d"/>
<circle cx="243.6" cy="879.8" r="1.4" fill="#7d7d7d"/>
<circle cx="230.0" cy="884.1" r="1.4" fill="#7d7d7d"/>
<circle cx="226.1" cy="883.3" r="1.4" fill="#7d7d7d"/>
<circle cx="264.8" cy="883.1" r="1.4" fill="#7d7d7d"/>
<circle cx="268.6" cy="885.8" r="1.4" fill="#7d7d7d"/>
<circle cx="243.7" cy="880.2" r="1.4" fill="#7d7d7d"/>
<circle cx="226.0" cy="880.8" r="1.4" fill="#7d7d7d"/>
<circle cx="269.4" cy="880.1" r="1.4" fill="#7d7d7d"/>
<circle cx="239.2" cy="881.5" r="1.4" fill="#7d7d7d"/>
<circle cx="238.6" cy="882.0" r="1.4" fill="#7d7d7d"/>
<circle cx="232.2" cy="879.7" r="1.4" fill="#7d7d7d"/>
<circle cx="271.6" cy="883.7" r="1.4" fill="#7d7d7d"/>
<circle cx="259.7" cy="882.3" r="1.4" fill="#7d7d7d"/>
<circle cx="260.9" cy="885.0" r="1.4" fill="#7d7d7d"/>
<circle cx="244.9" cy="880.8" r="1.4" fill="#7d7d7d"/>
<circle cx="235.0" cy="886.3" r="1.4" fill="#7d7d7d"/>
<circle cx="255.4" cy="880.2" r="1.4" fill="#7d7d7d"/>
<circle cx="249.8" cy="881.5" r="1.4" fill="#7d7d7d"/>
<circle cx="246.3" cy="879.1" r="1.4" fill="#7d7d7d"/>
<circle cx="231.6" cy="879.6" r="1.4" fill="#7d7d7d"/>
<circle cx="260.7" cy="881.8" r="1.4" fill="#7d7d7d"/>
<circle cx="241.6" cy="883.3" r="1.4" fill="#7d7d7d"/>
<circle cx="239.5" cy="880.7" r="1.4" fill="#7d7d7d"/>
<circle cx="221.5" cy="879.9" r="1.4" fill="#7d7d7d"/>
<circle cx="246.7" cy="884.8" r="1.4" fill="#7d7d7d"/>
<circle cx="267.2" cy="879.0" r="1.4" fill="#7d7d7d"/>
<circle cx="233.4" cy="879.5" r="1.4" fill="#7d7d7d"/>
<circle cx="240.8" cy="882.2" r="1.4" fill="#7d7d7d"/>
<circle cx="269.1" cy="882.6" r="1.4" fill="#7d7d7d"/>
<circle cx="247.8" cy="885.5" r="1.4" fill="#7d7d7d"/>
<circle cx="254.9" cy="886.7" r="1.4" fill="#7d7d7d"/>
<circle cx="244.1" cy="883.7" r="1.4" fill="#7d7d7d"/>
<circle cx="254.8" cy="880.3" r="1.4" fill="#7d7d7d"/>
<circle cx="225.3" cy="879.5" r="1.4" fill="#7d7d7d"/>
<circle cx="254.3" cy="885.8" r="1.4" fill="#7d7d7d"/>
<circle cx="247.9" cy="884.2" r="1.4" fill="#7d7d7d"/>
<circle cx="240.1" cy="879.1" r="1.4" fill="#7d7d7d"/>
<circle cx="235.2" cy="882.4" r="1.4" fill="#7d7d7d"/>
<circle cx="268.4" cy="882.7" r="1.4" fill="#7d7d7d"/>
<circle cx="231.4" cy="879.5" r="1.4" fill="#7d7d7d"/>
<circle cx="246.4" cy="885.4" r="1.4" fill="#7d7d7d"/>
<circle cx="241.9" cy="879.6" r="1.4" fill="#7d7d7d"/>
<circle cx="237.3" cy="881.9" r="1.4" fill="#7d7d7d"/>
<circle cx="263.4" cy="886.3" r="1.4" fill="#7d7d7d"/>
<circle cx="264.7" cy="879.2" r="1.4" fill="#7d7d7d"/>
<circle cx="230.7" cy="881.8" r="1.4" fill="#7d7d7d"/>
<circle cx="226.3" cy="881.5" r="1.4" fill="#7d7d7d"/>
<circle cx="271.1" cy="880.6" r="1.4" fill="#7d7d7d"/>
<circle cx="255.9" cy="881.3" r="1.4" fill="#7d7d7d"/>
<circle cx="239.3" cy="880.6" r="1.4" fill="#7d7d7d"/>
<circle cx="233.9" cy="880.9" r="1.4" fill="#7d7d7d"/>
<circle cx="264.9" cy="882.1" r="1.4" fill="#7d7d7d"/>
<circle cx="229.0" cy="881.1" r="1.4" fill="#7d7d7d"/>
<circle cx="270.4" cy="879.6" r="1.4" fill="#7d7d7d"/>
<circle cx="237.3" cy="879.8" r="1.4" fill="#7d7d7d"/>
<circle cx="232.9" cy="886.0" r="1.4" fill="#7d7d7d"/>
<circle cx="236.0" cy="879.9" r="1.4" fill="#7d7d7d"/>
<circle cx="270.2" cy="884.9" r="1.4" fill="#7d7d7d"/>
<circle cx="231.3" cy="882.7" r="1.4" fill="#7d7d7d"/>
<circle cx="240.0" cy="879.5" r="1.4" fill="#7d7d7d"/>
<circle cx="242.5" cy="882.9" r="1.4" fill="#7d7d7d"/>
<circle cx="263.7" cy="886.3" r="1.4" fill="#7d7d7d"/>
<circle cx="264.9" cy="886.8" r="1.4" fill="#7d7d7d"/>
<circle cx="252.6" cy="880.6" r="1.4" fill="#7d7d7d"/>
<circle cx="236.2" cy="881.1" r="1.4" fill="#7d7d7d"/>
<circle cx="258.5" cy="882.3" r="1.4" fill="#7d7d7d"/>
<circle cx="231.3" cy="881.8" r="1.4" fill="#7d7d7d"/>
<circle cx="253.4" cy="885.4" r="1.4" fill="#7d7d7d"/>
<circle cx="265.9" cy="880.1" r="1.4" fill="#7d7d7d"/>
<circle cx="250.3" cy="881.2" r="1.4" fill="#7d7d7d"/>
<circle cx="232.1" cy="879.4" r="1.4" fill="#7d7d7d"/>
<circle cx="251.0" cy="880.6" r="1.4" fill="#7d7d7d"/>
<circle cx="246.9" cy="879.2" r="1.4" fill="#7d7d7d"/>
<circle cx="264.1" cy="885.1" r="1.4" fill="#7d7d7d"/>
<circle cx="271.0" cy="881.2" r="1.4" fill="#7d7d7d"/>
<circle cx="267.4" cy="882.3" r="1.4" fill="#7d7d7d"/>
<circle cx="232.8" cy="886.9" r="1.4" fill="#7d7d7d"/>
<circle cx="252.0" cy="884.7" r="1.4" fill="#7d7d7d"/>
<circle cx="230.4" cy="881.2" r="1.4" fill="#7d7d7d"/>
<circle cx="232.5" cy="884.4" r="1.4" fill="#7d7d7d"/>
<circle cx="263.3" cy="883.7" r="1.4" fill="#7d7d7d"/>
<circle cx="240.5" cy="883.7" r="1.4" fill="#7d7d7d"/>
<circle cx="241.4" cy="880.0" r="1.4" fill="#7d7d7d"/>
<circle cx="235.8" cy="883.9" r="1.4" fill="#7d7d7d"/>
<circle cx="238.4" cy="881.8" r="1.4" fill="#7d7d7d"/>
<circle cx="239.1" cy="883.1" r="1.4" fill="#7d7d7d"/>
<circle cx="226.3" cy="880.0" r="1.4" fill="#7d7d7d"/>
<circle cx="270.8" cy="881.4" r="1.4" fill="#7d7d7d"/>
<circle cx="269.5" cy="884.7" r="1.4" fill="#7d7d7d"/>
<circle cx="262.8" cy="879.1" r="1.4" fill="#7d7d7d"/>
<circle cx="230.4" cy="881.6" r="1.4" fill="#7d7d7d"/>
<circle cx="247.5" cy="881.4" r="1.4" fill="#7d7d7d"/>
<circle cx="225.0" cy="879.5" r="1.4" fill="#7d7d7d"/>
<circle cx="252.2" cy="883.7" r="1.4" fill="#7d7d7d"/>
<circle cx="253.7" cy="880.3" r="1.4" fill="#7d7d7d"/>
<circle cx="241.9" cy="884.2" r="1.4" fill="#7d7d7d"/>
<circle cx="242.3" cy="885.2" r="1.4" fill="#7d7d7d"/>
<circle cx="243.5" cy="882.1" r="1.4" fill="#7d7d7d"/>
<circle cx="245.9" cy="879.3" r="1.4" fill="#7d7d7d"/>
<circle cx="261.5" cy="886.9" r="1.4" fill="#7d7d7d"/>
<circle cx="225.3" cy="882.0" r="1.4" fill="#7d7d7d"/>
<circle cx="259.8" cy="886.9" r="1.4" fill="#7d7d7d"/>
<circle cx="246.7" cy="881.3" r="1.4" fill="#7d7d7d"/>
<circle cx="221.7" cy="880.9" r="1.4" fill="#7d7d7d"/>
<circle cx="269.1" cy="879.8" r="1.4" fill="#7d7d7d"/>
<circle cx="229.9" cy="879.7" r="1.4" fill="#7d7d7d"/>
<circle cx="246.8" cy="880.5" r="1.4" fill="#7d7d7d"/>
<circle cx="254.3" cy="881.0" r="1.4" fill="#7d7d7d"/>
<circle cx="267.8" cy="883.8" r="1.4" fill="#7d7d7d"/>
<circle cx="253.9" cy="881.5" r="1.4" fill="#7d7d7d"/>
<circle cx="263.5" cy="879.7" r="1.4" fill="#7d7d7d"/>
<circle cx="238.5" cy="886.7" r="1.4" fill="#7d7d7d"/>
<circle cx="264.7" cy="879.6" r="1.4" fill="#7d7d7d"/>
<circle cx="251.4" cy="885.3" r="1.4" fill="#7d7d7d"/>
<circle cx="253.1" cy="882.1" r="1.4" fill="#7d7d7d"/>
<circle cx="225.5" cy="879.2" r="1.4" fill="#7d7d7d"/>
<circle cx="224.1" cy="881.0" r="1.4" fill="#7d7d7d"/>
<circle cx="230.8" cy="884.2" r="1.4" fill="#7d7d7d"/>
<circle cx="253.6" cy="882.6" r="1.4" fill="#7d7d7d"/>
<circle cx="267.7" cy="887.0" r="1.4" fill="#7d7d7d"/>
<circle cx="240.9" cy="879.7" r="1.4" fill="#7d7d7d"/>
<circle cx="250.1" cy="880.9" r="1.4" fill="#7d7d7d"/>
<circle cx="254.8" cy="882.2" r="1.4" fill="#7d7d7d"/>
<circle cx="241.1" cy="879.3" r="1.4" fill="#7d7d7d"/>
<circle cx="229.4" cy="884.5" r="1.4" fill="#7d7d7d"/>
<circle cx="246.9" cy="885.0" r="1.4" fill="#7d7d7d"/>
<circle cx="235.6" cy="880.2" r="1.4" fill="#7d7d7d"/>
<circle cx="262.6" cy="886.0" r="1.4" fill="#7d7d7d"/>
<circle cx="260.5" cy="882.5" r="1.4" fill="#7d7d7d"/>
<circle cx="260.3" cy="882.3" r="1.4" fill="#7d7d7d"/>
<circle cx="237.1" cy="886.5" r="1.4" fill="#7d7d7d"/>
<circle cx="258.6" cy="879.7" r="1.4" fill="#7d7d7d"/>
<circle cx="249.6" cy="882.1" r="1.4" fill="#7d7d7d"/>
<circle cx="262.9" cy="883.3" r="1.4" fill="#7d7d7d"/>
<circle cx="233.1" cy="885.0" r="1.4" fill="#7d7d7d"/>
<circle cx="232.8" cy="879.3" r="1.4" fill="#7d7d7d"/>
<circle cx="260.5" cy="880.6" r="1.4" fill="#7d7d7d"/>
<circle cx="268.2" cy="880.6" r="1.4" fill="#7d7d7d"/>
<circle cx="253.9" cy="885.7" r="1.4" fill="#7d7d7d"/>
<circle cx="242.9" cy="886.1" r="1.4" fill="#7d7d7d"/>
<circle cx="250.5" cy="880.3" r="1.4" fill="#7d7d7d"/>
<circle cx="230.1" cy="884.7" r="1.4" fill="#7d7d7d"/>
<circle cx="257.5" cy="884.9" r="1.4" fill="#7d7d7d"/>
<circle cx="257.7" cy="886.3" r="1.4" fill="#7d7d7d"/>
<circle cx="254.0" cy="880.0" r="1.4" fill="#7d7d7d"/>
<circle cx="236.2" cy="881.9" r="1.4" fill="#7d7d7d"/>
<circle cx="234.1" cy="886.0" r="1.4" fill="#7d7d7d"/>
<circle cx="239.0" cy="880.5" r="1.4" fill="#7d7d7d"/>
<circle cx="266.5" cy="884.7" r="1.4" fill="#7d7d7d"/>
<circle cx="242.9" cy="886.8" r="1.4" fill="#7d7d7d"/>
<circle cx="237.8" cy="885.9" r="1.4" fill="#7d7d7d"/>
<circle cx="248.7" cy="879.0" r="1.4" fill="#7d7d7d"/>
<circle cx="246.0" cy="887.2" r="1.4" fill="#7d7d7d"/>
<circle cx="228.5" cy="882.9" r="1.4" fill="#7d7d7d"/>
<circle cx="234.2" cy="879.0" r="1.4" fill="#7d7d7d"/>
<circle cx="257.9" cy="883.0" r="1.4" fill="#7d7d7d"/>
<circle cx="257.7" cy="887.0" r="1.4" fill="#7d7d7d"/>
<circle cx="253.8" cy="881.0" r="1.4" fill="#7d7d7d"/>
<circle cx="240.9" cy="881.5" r="1.4" fill="#7d7d7d"/>
<circle cx="229.7" cy="879.7" r="1.4" fill="#7d7d7d"/>
<circle cx="269.4" cy="883.0" r="1.4" fill="#7d7d7d"/>
<circle cx="231.3" cy="882.5" r="1.4" fill="#7d7d7d"/>
<circle cx="248.3" cy="886.6" r="1.4" fill="#7d7d7d"/>
<circle cx="260.9" cy="885.0" r="1.4" fill="#7d7d7d"/>
<circle cx="237.9" cy="880.6" r="1.4" fill="#7d7d7d"/>
<circle cx="255.7" cy="886.4" r="1.4" fill="#7d7d7d"/>
<circle cx="227.7" cy="882.1" r="1.4" fill="#7d7d7d"/>
<circle cx="262.1" cy="884.1" r="1.4" fill="#7d7d7d"/>
<circle cx="225.2" cy="882.5" r="1.4" fill="#7d7d7d"/>
<circle cx="268.5" cy="879.3" r="1.4" fill="#7d7d7d"/>
<circle cx="228.9" cy="880.2" r="1.4" fill="#7d7d7d"/>
<circle cx="232.1" cy="880.6" r="1.4" fill="#7d7d7d"/>
<circle cx="223.8" cy="881.4" r="1.4" fill="#7d7d7d"/>
<circle cx="259.8" cy="882.1" r="1.4" fill="#7d7d7d"/>
<circle cx="229.2" cy="884.9" r="1.4" fill="#7d7d7d"/>
<circle cx="240.7" cy="887.1" r="1.4" fill="#7d7d7d"/>
<circle cx="257.5" cy="883.0" r="1.4" fill="#7d7d7d"/>
<circle cx="254.0" cy="882.5" r="1.4" fill="#7d7d7d"/>
<circle cx="241.1" cy="886.4" r="1.4" fill="#7d7d7d"/>
<circle cx="269.8" cy="882.0" r="1.4" fill="#7d7d7d"/>
<circle cx="250.7" cy="886.5" r="1.4" fill="#7d7d7d"/>
<circle cx="242.0" cy="879.2" r="1.4" fill="#7d7d7d"/>
<circle cx="262.1" cy="885.8" r="1.4" fill="#7d7d7d"/>
<circle cx="266.6" cy="885.5" r="1.4" fill="#7d7d7d"/>
<circle cx="254.6" cy="882.4" r="1.4" fill="#7d7d7d"/>
<circle cx="235.8" cy="884.8" r="1.4" fill="#7d7d7d"/>
<circle cx="223.6" cy="881.9" r="1.4" fill="#7d7d7d"/>
<circle cx="262.6" cy="886.0" r="1.4" fill="#7d7d7d"/>
<circle cx="253.9" cy="879.5" r="1.4" fill="#7d7d7d"/>
<circle cx="242.1" cy="882.4" r="1.4" fill="#7d7d7d"/>
<circle cx="253.4" cy="881.7" r="1.4" fill="#7d7d7d"/>
<circle cx="228.4" cy="885.2" r="1.4" fill="#7d7d7d"/>
<circle cx="262.4" cy="881.4" r="1.4" fill="#7d7d7d"/>
<circle cx="271.6" cy="883.3" r="1.4" fill="#7d7d7d"/>
<circle cx="248.8" cy="886.0" r="1.4" fill="#7d7d7d"/>
<circle cx="247.2" cy="884.9" r="1.4" fill="#7d7d7d"/>
<circle cx="265.3" cy="883.3" r="1.4" fill="#7d7d7d"/>
<circle cx="230.0" cy="885.6" r="1.4" fill="#7d7d7d"/>
<circle cx="240.4" cy="886.7" r="1.4" fill="#7d7d7d"/>
<circle cx="233.6" cy="881.6" r="1.4" fill="#7d7d7d"/>
<circle cx="242.0" cy="885.8" r="1.4" fill="#7d7d7d"/>
<circle cx="238.1" cy="879.7" r="1.4" fill="#7d7d7d"/>
<circle cx="230.8" cy="886.4" r="1.4" fill="#7d7d7d"/>
<circle cx="271.6" cy="883.4" r="1.4" fill="#7d7d7d"/>
<circle cx="240.3" cy="879.0" r="1.4" fill="#7d7d7d"/>
<circle cx="264.1" cy="884.9" r="1.4" fill="#7d7d7d"/>
<circle cx="244.7" cy="883.9" r="1.4" fill="#7d7d7d"/>
<circle cx="238.1" cy="884.9" r="1.4" fill="#7d7d7d"/>
<circle cx="244.7" cy="880.1" r="1.4" fill="#7d7d7d"/>
<circle cx="265.5" cy="881.0" r="1.4" fill="#7d7d7d"/>
<circle cx="266.5" cy="879.7" r="1.4" fill="#7d7d7d"/>
<circle cx="239.4" cy="879.5" r="1.4" fill="#7d7d7d"/>
<circle cx="234.0" cy="879.4" r="1.4" fill="#7d7d7d"/>
<circle cx="235.2" cy="882.7" r="1.4" fill="#7d7d7d"/>
<circle cx="242.4" cy="884.9" r="1.4" fill="#7d7d7d"/>
<circle cx="255.6" cy="881.1" r="1.4" fill="#7d7d7d"/>
<circle cx="255.4" cy="879.5" r="1.4" fill="#7d7d7d"/>
<circle cx="231.3" cy="886.9" r="1.4" fill="#7d7d7d"/>
<circle cx="252.7" cy="886.9" r="1.4" fill="#7d7d7d"/>
<circle cx="248.3" cy="886.4" r="1.4" fill="#7d7d7d"/>
<circle cx="249.6" cy="879.7" r="1.4" fill="#7d7d7d"/>
<circle cx="246.0" cy="883.0" r="1.4" fill="#7d7d7d"/>
<circle cx="244.7" cy="883.9" r="1.4" fill="#7d7d7d"/>
<circle cx="239.4" cy="881.9" r="1.4" fill="#7d7d7d"/>
<circle cx="254.3" cy="884.9" r="1.4" fill="#7d7d7d"/>
<circle cx="247.1" cy="882.8" r="1.4" fill="#7d7d7d"/>
<circle cx="258.9" cy="884.8" r="1.4" fill="#7d7d7d"/>
<circle cx="238.9" cy="882.6" r="1.4" fill="#7d7d7d"/>
<circle cx="248.0" cy="886.8" r="1.4" fill="#7d7d7d"/>
<circle cx="230.0" cy="882.1" r="1.4" fill="#7d7d7d"/>
<circle cx="242.1" cy="883.8" r="1.4" fill="#7d7d7d"/>
<circle cx="265.1" cy="880.1" r="1.4" fill="#7d7d7d"/>
<circle cx="265.2" cy="881.7" r="1.4" fill="#7d7d7d"/>
<circle cx="246.7" cy="879.8" r="1.4" fill="#7d7d7d"/>
<circle cx="255.3" cy="887.1" r="1.4" fill="#7d7d7d"/>
<circle cx="236.9" cy="880.4" r="1.4" fill="#7d7d7d"/>
<circle cx="235.1" cy="884.2" r="1.4" fill="#7d7d7d"/>
<circle cx="254.2" cy="887.0" r="1.4" fill="#7d7d7d"/>
<circle cx="268.5" cy="883.6" r="1.4" fill="#7d7d7d"/>
<circle cx="270.5" cy="884.5" r="1.4" fill="#7d7d7d"/>
<circle cx="255.5" cy="887.0" r="1.4" fill="#7d7d7d"/>
<circle cx="269.9" cy="884.6" r="1.4" fill="#7d7d7d"/>
<circle cx="253.2" cy="884.8" r="1.4" fill="#7d7d7d"/>
<circle cx="257.7" cy="884.3" r="1.4" fill="#7d7d7d"/>
<circle cx="256.8" cy="879.0" r="1.4" fill="#7d7d7d"/>
<circle cx="256.0" cy="882.4" r="1.4" fill="#7d7d7d"/>
<circle cx="255.4" cy="881.2" r="1.4" fill="#7d7d7d"/>
<circle cx="264.9" cy="887.0" r="1.4" fill="#7d7d7d"/>
<circle cx="250.0" cy="879.6" r="1.4" fill="#7d7d7d"/>
<circle cx="235.2" cy="881.9" r="1.4" fill="#7d7d7d"/>
<circle cx="236.2" cy="882.0" r="1.4" fill="#7d7d7d"/>
<circle cx="264.2" cy="884.1" r="1.4" fill="#7d7d7d"/>
<circle cx="270.4" cy="882.3" r="1.4" fill="#7d7d7d"/>
<circle cx="254.7" cy="879.0" r="1.4" fill="#7d7d7d"/>
<circle cx="259.0" cy="879.4" r="1.4" fill="#7d7d7d"/>
<circle cx="253.8" cy="885.9" r="1.4" fill="#7d7d7d"/>
<circle cx="235.7" cy="886.2" r="1.4" fill="#7d7d7d"/>
<circle cx="239.0" cy="884.0" r="1.4" fill="#7d7d7d"/>
<circle cx="243.0" cy="885.5" r="1.4" fill="#7d7d7d"/>
<circle cx="238.7" cy="885.0" r="1.4" fill="#7d7d7d"/>
<circle cx="253.9" cy="881.9" r="1.4" fill="#7d7d7d"/>
<circle cx="240.0" cy="887.0" r="1.4" fill="#7d7d7d"/>
<circle cx="250.3" cy="880.1" r="1.4" fill="#7d7d7d"/>
<circle cx="236.9" cy="884.5" r="1.4" fill="#7d7d7d"/>
<circle cx="252.3" cy="880.3" r="1.4" fill="#7d7d7d"/>
<circle cx="239.5" cy="885.6" r="1.4" fill="#7d7d7d"/>
<circle cx="264.0" cy="880.0" r="1.4" fill="#7d7d7d"/>
<circle cx="242.1" cy="884.2" r="1.4" fill="#7d7d7d"/>
<circle cx="250.6" cy="879.8" r="1.4" fill="#7d7d7d"/>
<circle cx="249.6" cy="887.2" r="1.4" fill="#7d7d7d"/>
<circle cx="271.1" cy="879.3" r="1.4" fill="#7d7d7d"/>
<circle cx="252.6" cy="885.5" r="1.4" fill="#7d7d7d"/>
<circle cx="232.5" cy="886.5" r="1.4" fill="#7d7d7d"/>
<circle cx="263.1" cy="882.4" r="1.4" fill="#7d7d7d"/>
<circle cx="262.0" cy="879.3" r="1.4" fill="#7d7d7d"/>
<circle cx="268.5" cy="883.3" r="1.4" fill="#7d7d7d"/>
<circle cx="245.2" cy="884.3" r="1.4" fill="#7d7d7d"/>
<circle cx="238.7" cy="883.9" r="1.4" fill="#7d7d7d"/>
<circle cx="240.9" cy="883.2" r="1.4" fill="#7d7d7d"/>
<circle cx="252.0" cy="880.8" r="1.4" fill="#7d7d7d"/>
<circle cx="267.4" cy="882.8" r="1.4" fill="#7d7d7d"/>
<circle cx="250.3" cy="879.7" r="1.4" fill="#7d7d7d"/>
<circle cx="262.4" cy="882.0" r="1.4" fill="#7d7d7d"/>
<circle cx="252.1" cy="881.6" r="1.4" fill="#7d7d7d"/>
<circle cx="232.7" cy="883.9" r="1.4" fill="#7d7d7d"/>
<circle cx="256.2" cy="881.5" r="1.4" fill="#7d7d7d"/>
<circle cx="232.6" cy="880.9" r="1.4" fill="#7d7d7d"/>
<circle cx="262.8" cy="885.9" r="1.4" fill="#7d7d7d"/>
<circle cx="256.6" cy="880.2" r="1.4" fill="#7d7d7d"/>
<circle cx="251.7" cy="886.6" r="1.4" fill="#7d7d7d"/>
<circle cx="224.0" cy="880.5" r="1.4" fill="#7d7d7d"/>
<circle cx="226.0" cy="882.3" r="1.4" fill="#7d7d7d"/>
<circle cx="266.0" cy="884.8" r="1.4" fill="#7d7d7d"/>
<circle cx="243.8" cy="880.8" r="1.4" fill="#7d7d7d"/>
<circle cx="264.9" cy="882.7" r="1.4" fill="#7d7d7d"/>
<circle cx="258.7" cy="883.7" r="1.4" fill="#7d7d7d"/>
<circle cx="233.2" cy="881.8" r="1.4" fill="#7d7d7d"/>
<circle cx="226.9" cy="879.8" r="1.4" fill="#7d7d7d"/>
<circle cx="265.9" cy="880.7" r="1.4" fill="#7d7d7d"/>
<circle cx="227.6" cy="882.9" r="1.4" fill="#7d7d7d"/>
<circle cx="256.1" cy="879.0" r="1.4" fill="#7d7d7d"/>
<circle cx="245.2" cy="880.0" r="1.4" fill="#7d7d7d"/>
<circle cx="223.6" cy="880.1" r="1.4" fill="#7d7d7d"/>
<circle cx="259.4" cy="880.1" r="1.4" fill="#7d7d7d"/>
<circle cx="264.0" cy="880.8" r="1.4" fill="#7d7d7d"/>
<circle cx="265.4" cy="883.4" r="1.4" fill="#7d7d7d"/>
<circle cx="228.6" cy="882.1" r="1.4" fill="#7d7d7d"/>
<circle cx="270.0" cy="879.1" r="1.4" fill="#7d7d7d"/>
<circle cx="252.7" cy="882.9" r="1.4" fill="#7d7d7d"/>
<circle cx="252.9" cy="885.9" r="1.4" fill="#7d7d7d"/>
<circle cx="264.3" cy="884.2" r="1.4" fill="#7d7d7d"/>
<circle cx="259.8" cy="881.7" r="1.4" fill="#7d7d7d"/>
<circle cx="222.5" cy="878.5" r="1.4" fill="#7d7d7d"/>
<circle cx="230.0" cy="878.3" r="1.4" fill="#7d7d7d"/>
<circle cx="238.0" cy="878.4" r="1.4" fill="#7d7d7d"/>
<circle cx="255.0" cy="878.2" r="1.4" fill="#7d7d7d"/>
<circle cx="258.0" cy="878.4" r="1.4" fill="#7d7d7d"/>
<circle cx="250.0" cy="878.6" r="1.4" fill="#7d7d7d"/>
<circle cx="267.7" cy="887.8" r="1.4" fill="#3d3d3d"/>
<circle cx="273.0" cy="886.6" r="1.4" fill="#3d3d3d"/>
<circle cx="277.7" cy="887.0" r="1.4" fill="#3d3d3d"/>
<circle cx="279.2" cy="885.5" r="1.4" fill="#3d3d3d"/>
<circle cx="278.5" cy="888.6" r="1.4" fill="#3d3d3d"/>
<circle cx="273.2" cy="881.0" r="1.4" fill="#3d3d3d"/>
<circle cx="274.0" cy="883.5" r="1.4" fill="#3d3d3d"/>
<circle cx="206.9" cy="866.8" r="1.45" fill="#3d3d3d"/>
<circle cx="229.2" cy="866.4" r="1.45" fill="#3d3d3d"/>
<circle cx="234.2" cy="872.2" r="1.45" fill="#3d3d3d"/>
<circle cx="205.8" cy="874.5" r="1.45" fill="#3d3d3d"/>
<circle cx="208.5" cy="876.8" r="1.45" fill="#3d3d3d"/>
<circle cx="214.2" cy="874.1" r="1.45" fill="#3d3d3d"/>
<circle cx="213.5" cy="878.7" r="1.45" fill="#3d3d3d"/>
<circle cx="213.5" cy="882.7" r="1.45" fill="#3d3d3d"/>
<circle cx="218.1" cy="883.6" r="1.45" fill="#3d3d3d"/>
<circle cx="222.4" cy="885.2" r="1.45" fill="#3d3d3d"/>
<circle cx="196.5" cy="846.1" r="1.45" fill="#2e6a80"/>
<circle cx="208.5" cy="843.3" r="1.45" fill="#7cc4b4"/>
<circle cx="216.2" cy="842.0" r="1.45" fill="#e4a4bc"/>
<circle cx="219.8" cy="845.1" r="1.45" fill="#c75a78"/>
<circle cx="216.3" cy="847.5" r="1.45" fill="#e4a4bc"/>
<circle cx="211.9" cy="849.7" r="1.45" fill="#e4a4bc"/>
<circle cx="219.1" cy="850.0" r="1.45" fill="#2e6a80"/>
<circle cx="213.1" cy="853.5" r="1.45" fill="#3a8a80"/>
<circle cx="217.8" cy="852.2" r="1.45" fill="#8a8fc0"/>
<circle cx="221.7" cy="853.7" r="1.45" fill="#3a80c0"/>
<circle cx="228.8" cy="852.2" r="1.45" fill="#2e6a80"/>
<circle cx="215.4" cy="857.5" r="1.45" fill="#2e6a80"/>
<circle cx="210.0" cy="858.3" r="1.45" fill="#8a8fc0"/>
<circle cx="210.0" cy="861.4" r="1.45" fill="#8a8fc0"/>
<circle cx="218.5" cy="858.3" r="1.45" fill="#e4a4bc"/>
<circle cx="228.3" cy="857.5" r="1.45" fill="#2e6a80"/>
<circle cx="212.3" cy="865.6" r="1.45" fill="#e4a4bc"/>
<circle cx="217.3" cy="864.5" r="1.45" fill="#3a80c0"/>
<circle cx="219.6" cy="863.3" r="1.45" fill="#3a80c0"/>
<circle cx="223.5" cy="863.7" r="1.45" fill="#8a8fc0"/>
<circle cx="225.0" cy="862.5" r="1.45" fill="#e4a4bc"/>
<circle cx="226.5" cy="865.2" r="1.45" fill="#e4a4bc"/>
<circle cx="218.1" cy="868.3" r="1.45" fill="#3a8a80"/>
<circle cx="220.4" cy="869.1" r="1.45" fill="#3a80c0"/>
<circle cx="222.7" cy="867.5" r="1.45" fill="#7cc4b4"/>
<circle cx="225.0" cy="868.3" r="1.45" fill="#8a8fc0"/>
<circle cx="227.3" cy="869.8" r="1.45" fill="#3a80c0"/>
<circle cx="231.2" cy="868.3" r="1.45" fill="#7cc4b4"/>
<circle cx="220.4" cy="872.9" r="1.45" fill="#3a80c0"/>
<circle cx="223.5" cy="872.9" r="1.45" fill="#7cc4b4"/>
<circle cx="225.8" cy="874.5" r="1.45" fill="#e4a4bc"/>
<circle cx="228.1" cy="873.7" r="1.45" fill="#7cc4b4"/>
<circle cx="230.4" cy="875.2" r="1.45" fill="#8a8fc0"/>
<circle cx="233.5" cy="875.2" r="1.45" fill="#c75a78"/>
<circle cx="223.5" cy="877.5" r="1.45" fill="#7cc4b4"/>
<circle cx="228.1" cy="877.9" r="1.45" fill="#3a80c0"/>
<circle cx="188.0" cy="859.3" r="1.45" fill="#e4a4bc"/>
<circle cx="199.0" cy="871.0" r="1.45" fill="#7cc4b4"/>
<circle cx="216.5" cy="860.5" r="1.45" fill="#3a80c0"/>
<circle cx="218.0" cy="861.5" r="1.45" fill="#7ac4dc"/>
<circle cx="221.0" cy="860.0" r="1.45" fill="#e4a4bc"/>
<circle cx="222.0" cy="865.0" r="1.45" fill="#7ac4dc"/>
<circle cx="216.0" cy="866.5" r="1.45" fill="#3a8a80"/>
<circle cx="219.0" cy="866.0" r="1.45" fill="#7ac4dc"/>
<circle cx="221.5" cy="870.8" r="1.45" fill="#7ac4dc"/>
<circle cx="224.5" cy="870.5" r="1.45" fill="#3a8a80"/>
<circle cx="226.5" cy="871.5" r="1.45" fill="#7ac4dc"/>
<circle cx="229.0" cy="870.8" r="1.45" fill="#e4a4bc"/>
<circle cx="219.0" cy="874.0" r="1.45" fill="#3a8a80"/>
<circle cx="221.8" cy="875.5" r="1.45" fill="#7ac4dc"/>
<circle cx="226.7" cy="876.5" r="1.45" fill="#7ac4dc"/>
<circle cx="231.5" cy="872.5" r="1.45" fill="#3a80c0"/>
<circle cx="232.0" cy="877.0" r="1.45" fill="#e4a4bc"/>
<circle cx="235.5" cy="877.0" r="1.45" fill="#8a8fc0"/>
<circle cx="214.5" cy="861.5" r="1.45" fill="#3a80c0"/>
<circle cx="217.5" cy="855.5" r="1.45" fill="#e4a4bc"/>
<circle cx="222.5" cy="857.0" r="1.45" fill="#8a8fc0"/>
<circle cx="213.5" cy="857.8" r="1.45" fill="#3a8a80"/>
<circle cx="224.5" cy="866.5" r="1.45" fill="#3a80c0"/>
<circle cx="229.5" cy="863.0" r="1.45" fill="#e4a4bc"/>
<circle cx="194.4" cy="728.6" r="1.25" fill="#c75a78"/>
<circle cx="199.7" cy="760.8" r="1.25" fill="#8a8fc0"/>
<circle cx="218.1" cy="779.4" r="1.25" fill="#8a8fc0"/>
<circle cx="208.8" cy="799.5" r="1.25" fill="#7cc4b4"/>
<circle cx="211.5" cy="805.2" r="1.25" fill="#e4a4bc"/>
<circle cx="182.3" cy="803.8" r="1.25" fill="#7cc4b4"/>
<circle cx="206.2" cy="817.1" r="1.25" fill="#3a80c0"/>
<circle cx="196.7" cy="829.1" r="1.25" fill="#7cc4b4"/>
<circle cx="213.0" cy="834.4" r="1.25" fill="#7cc4b4"/>
<circle cx="204.5" cy="826.5" r="1.25" fill="#e4a4bc"/>
<circle cx="210.0" cy="815.0" r="1.25" fill="#e4a4bc"/>
<circle cx="205.0" cy="834.5" r="1.25" fill="#8a8fc0"/>
<circle cx="273.4" cy="832.5" r="1.45" fill="#c75a78"/>
<circle cx="277.7" cy="837.0" r="1.45" fill="#3a8a80"/>
<circle cx="322.2" cy="852.4" r="1.45" fill="#3a8a80"/>
<circle cx="295.1" cy="855.4" r="1.45" fill="#2e6a80"/>
<circle cx="275.5" cy="859.2" r="1.45" fill="#2e6a80"/>
<circle cx="291.6" cy="859.6" r="1.45" fill="#2e6a80"/>
<circle cx="271.6" cy="863.8" r="1.45" fill="#3a80c0"/>
<circle cx="271.6" cy="866.2" r="1.45" fill="#3a80c0"/>
<circle cx="272.0" cy="868.5" r="1.45" fill="#3a80c0"/>
<circle cx="271.2" cy="870.8" r="1.45" fill="#3a80c0"/>
<circle cx="272.2" cy="861.5" r="1.45" fill="#3a80c0"/>
<circle cx="271.8" cy="873.0" r="1.45" fill="#3a80c0"/>
<circle cx="276.2" cy="864.6" r="1.45" fill="#2e6a80"/>
<circle cx="278.2" cy="864.2" r="1.45" fill="#7cc4b4"/>
<circle cx="282.8" cy="863.1" r="1.45" fill="#c75a78"/>
<circle cx="282.4" cy="865.0" r="1.45" fill="#c75a78"/>
<circle cx="286.6" cy="865.0" r="1.45" fill="#e4a4bc"/>
<circle cx="275.8" cy="869.2" r="1.45" fill="#c75a78"/>
<circle cx="275.5" cy="873.1" r="1.45" fill="#3a8a80"/>
<circle cx="276.8" cy="873.3" r="1.45" fill="#3a8a80"/>
<circle cx="280.5" cy="874.6" r="1.45" fill="#c75a78"/>
<circle cx="280.1" cy="873.1" r="1.45" fill="#e4a4bc"/>
<circle cx="285.1" cy="876.2" r="1.45" fill="#3a8a80"/>
<circle cx="286.6" cy="876.2" r="1.45" fill="#3a8a80"/>
<circle cx="298.2" cy="868.5" r="1.45" fill="#2e6a80"/>
<circle cx="293.5" cy="876.9" r="1.45" fill="#2e6a80"/>
<circle cx="273.5" cy="875.4" r="1.45" fill="#3a80c0"/>
<circle cx="268.2" cy="875.4" r="1.45" fill="#3a80c0"/>
<circle cx="269.3" cy="876.2" r="1.45" fill="#7ac4dc"/>
<circle cx="311.0" cy="865.3" r="1.45" fill="#3a8a80"/>
<circle cx="317.1" cy="866.2" r="1.45" fill="#c75a78"/>
<circle cx="298.5" cy="868.4" r="1.45" fill="#2e6a80"/>
<circle cx="324.0" cy="870.5" r="1.45" fill="#c75a78"/>
<circle cx="303.2" cy="874.4" r="1.45" fill="#2e6a80"/>
<circle cx="270.5" cy="858.0" r="1.45" fill="#3a80c0"/>
</g>
<g font-size="5.7" fill="#383838">
<rect x="190.2" y="721.6" width="20.7" height="5.7" fill="#fff" stroke="#8c8c8c" stroke-width="0.55" rx="0.6"/>
<text x="200.6" y="726.5" text-anchor="middle" textLength="18.1" lengthAdjust="spacingAndGlyphs">S100A6</text>
<rect x="182.8" y="762.9" width="23.9" height="5.3" fill="#fff" stroke="#8c8c8c" stroke-width="0.55" rx="0.6"/>
<text x="194.8" y="767.5" text-anchor="middle" textLength="21.3" lengthAdjust="spacingAndGlyphs">SLC26A3</text>
<rect x="201.8" y="781.9" width="22.2" height="5.3" fill="#fff" stroke="#8c8c8c" stroke-width="0.55" rx="0.6"/>
<text x="212.9" y="786.5" text-anchor="middle" textLength="19.6" lengthAdjust="spacingAndGlyphs">TMSB10</text>
<rect x="190.4" y="792.3" width="24.1" height="5.7" fill="#fff" stroke="#8c8c8c" stroke-width="0.55" rx="0.6"/>
<text x="202.4" y="797.1" text-anchor="middle" textLength="21.5" lengthAdjust="spacingAndGlyphs">ATP5F1E</text>
<rect x="213.0" y="801.0" width="22.2" height="5.5" fill="#fff" stroke="#8c8c8c" stroke-width="0.55" rx="0.6"/>
<text x="224.1" y="805.8" text-anchor="middle" textLength="19.6" lengthAdjust="spacingAndGlyphs">LGALS1</text>
<rect x="153.1" y="805.9" width="27.5" height="5.3" fill="#fff" stroke="#8c8c8c" stroke-width="0.55" rx="0.6"/>
<text x="166.8" y="810.5" text-anchor="middle" textLength="24.9" lengthAdjust="spacingAndGlyphs">SLC9A3R2</text>
<rect x="206.6" y="810.1" width="22.3" height="5.3" fill="#fff" stroke="#8c8c8c" stroke-width="0.55" rx="0.6"/>
<text x="217.8" y="814.8" text-anchor="middle" textLength="19.7" lengthAdjust="spacingAndGlyphs">UQCR11</text>
<rect x="181.3" y="814.8" width="22.2" height="5.2" fill="#fff" stroke="#8c8c8c" stroke-width="0.55" rx="0.6"/>
<text x="192.4" y="819.4" text-anchor="middle" textLength="19.6" lengthAdjust="spacingAndGlyphs">COX7A2</text>
<rect x="207.3" y="820.7" width="20.5" height="5.0" fill="#fff" stroke="#8c8c8c" stroke-width="0.55" rx="0.6"/>
<text x="217.6" y="825.2" text-anchor="middle" textLength="17.9" lengthAdjust="spacingAndGlyphs">SEC61G</text>
<rect x="182.3" y="822.8" width="20.7" height="5.0" fill="#fff" stroke="#8c8c8c" stroke-width="0.55" rx="0.6"/>
<text x="192.7" y="827.3" text-anchor="middle" textLength="18.1" lengthAdjust="spacingAndGlyphs">POLR2L</text>
<rect x="215.1" y="828.5" width="15.9" height="5.0" fill="#fff" stroke="#8c8c8c" stroke-width="0.55" rx="0.6"/>
<text x="223.1" y="833.0" text-anchor="middle" textLength="13.3" lengthAdjust="spacingAndGlyphs">TMA7</text>
<rect x="176.4" y="832.3" width="19.0" height="4.9" fill="#fff" stroke="#8c8c8c" stroke-width="0.55" rx="0.6"/>
<text x="185.9" y="836.8" text-anchor="middle" textLength="16.4" lengthAdjust="spacingAndGlyphs">PODXL</text>
<rect x="197.5" y="837.6" width="14.4" height="5.3" fill="#fff" stroke="#8c8c8c" stroke-width="0.55" rx="0.6"/>
<text x="204.7" y="842.2" text-anchor="middle" textLength="11.8" lengthAdjust="spacingAndGlyphs">ELOB</text>
<rect x="261.2" y="826.0" width="14.4" height="4.9" fill="#fff" stroke="#8c8c8c" stroke-width="0.55" rx="0.6"/>
<text x="268.4" y="830.5" text-anchor="middle" textLength="11.8" lengthAdjust="spacingAndGlyphs">TPT1</text>
<rect x="276.0" y="839.9" width="15.5" height="4.7" fill="#fff" stroke="#8c8c8c" stroke-width="0.55" rx="0.6"/>
<text x="283.8" y="844.2" text-anchor="middle" textLength="12.9" lengthAdjust="spacingAndGlyphs">GPX4</text>
<rect x="296.4" y="843.7" width="18.5" height="4.9" fill="#fff" stroke="#8c8c8c" stroke-width="0.55" rx="0.6"/>
<text x="305.6" y="848.2" text-anchor="middle" textLength="15.9" lengthAdjust="spacingAndGlyphs">PTGS2</text>
<rect x="318.3" y="844.2" width="16.5" height="4.9" fill="#fff" stroke="#8c8c8c" stroke-width="0.55" rx="0.6"/>
<text x="326.6" y="848.7" text-anchor="middle" textLength="13.9" lengthAdjust="spacingAndGlyphs">EGR1</text>
<rect x="256.0" y="852.9" width="14.8" height="4.8" fill="#fff" stroke="#8c8c8c" stroke-width="0.55" rx="0.6"/>
<text x="263.4" y="857.3" text-anchor="middle" textLength="12.2" lengthAdjust="spacingAndGlyphs">FTH1</text>
<rect x="273.0" y="852.0" width="20.3" height="4.8" fill="#fff" stroke="#8c8c8c" stroke-width="0.55" rx="0.6"/>
<text x="283.1" y="856.4" text-anchor="middle" textLength="17.7" lengthAdjust="spacingAndGlyphs">EEF1A1</text>
<rect x="306.7" y="852.9" width="13.3" height="4.8" fill="#fff" stroke="#8c8c8c" stroke-width="0.55" rx="0.6"/>
<text x="313.4" y="857.3" text-anchor="middle" textLength="10.7" lengthAdjust="spacingAndGlyphs">ATF3</text>
<rect x="252.6" y="861.5" width="16.9" height="4.7" fill="#fff" stroke="#8c8c8c" stroke-width="0.55" rx="0.6"/>
<text x="261.1" y="865.9" text-anchor="middle" textLength="14.3" lengthAdjust="spacingAndGlyphs">THBS1</text>
<rect x="294.6" y="861.5" width="13.4" height="4.9" fill="#fff" stroke="#8c8c8c" stroke-width="0.55" rx="0.6"/>
<text x="301.3" y="866.0" text-anchor="middle" textLength="10.8" lengthAdjust="spacingAndGlyphs">KLF6</text>
<rect x="319.2" y="861.5" width="11.8" height="4.9" fill="#fff" stroke="#8c8c8c" stroke-width="0.55" rx="0.6"/>
<text x="325.1" y="866.0" text-anchor="middle" textLength="9.2" lengthAdjust="spacingAndGlyphs">JUN</text>
<rect x="241.0" y="870.4" width="26.9" height="4.5" fill="#fff" stroke="#8c8c8c" stroke-width="0.55" rx="0.6"/>
<text x="254.4" y="874.6" text-anchor="middle" textLength="24.3" lengthAdjust="spacingAndGlyphs">MARCKSL1</text>
<rect x="281.3" y="869.4" width="16.4" height="4.8" fill="#fff" stroke="#8c8c8c" stroke-width="0.55" rx="0.6"/>
<text x="289.5" y="873.8" text-anchor="middle" textLength="13.8" lengthAdjust="spacingAndGlyphs">MMP1</text>
<rect x="324.6" y="872.9" width="11.6" height="4.7" fill="#fff" stroke="#8c8c8c" stroke-width="0.55" rx="0.6"/>
<text x="330.4" y="877.2" text-anchor="middle" textLength="9.0" lengthAdjust="spacingAndGlyphs">FOS</text>
<rect x="260.2" y="878.1" width="11.5" height="4.8" fill="#fff" stroke="#8c8c8c" stroke-width="0.55" rx="0.6"/>
<text x="265.9" y="882.5" text-anchor="middle" textLength="8.9" lengthAdjust="spacingAndGlyphs">FN1</text>
<rect x="274.6" y="879.6" width="17.3" height="4.7" fill="#fff" stroke="#8c8c8c" stroke-width="0.55" rx="0.6"/>
<text x="283.2" y="884.0" text-anchor="middle" textLength="14.7" lengthAdjust="spacingAndGlyphs">CXCL8</text>
<rect x="295.4" y="879.6" width="18.6" height="4.7" fill="#fff" stroke="#8c8c8c" stroke-width="0.55" rx="0.6"/>
<text x="304.7" y="884.0" text-anchor="middle" textLength="16.0" lengthAdjust="spacingAndGlyphs">DUSP1</text>
</g>
<g stroke="#666" stroke-width="1.0" fill="none">
<polyline points="120.4,698.7 120.4,897.1 374.1,897.1"/>
<line x1="116.3" y1="888" x2="120.4" y2="888"/>
<line x1="116.3" y1="838" x2="120.4" y2="838"/>
<line x1="116.3" y1="788" x2="120.4" y2="788"/>
<line x1="116.3" y1="738" x2="120.4" y2="738"/>
<line x1="131.7" y1="897.1" x2="131.7" y2="901"/>
<line x1="189.6" y1="897.1" x2="189.6" y2="901"/>
<line x1="247.5" y1="897.1" x2="247.5" y2="901"/>
<line x1="305.4" y1="897.1" x2="305.4" y2="901"/>
<line x1="363.3" y1="897.1" x2="363.3" y2="901"/>
</g>
<g font-size="8.6" fill="#333">
<text x="111.9" y="891.1" text-anchor="end">0</text>
<text x="111.9" y="841.1" text-anchor="end">25</text>
<text x="111.9" y="791.1" text-anchor="end">50</text>
<text x="111.9" y="741.1" text-anchor="end">75</text>
<text x="131.7" y="912.8" text-anchor="middle">−1.0</text>
<text x="189.6" y="912.8" text-anchor="middle">−0.5</text>
<text x="247.5" y="912.8" text-anchor="middle">0.0</text>
<text x="305.4" y="912.8" text-anchor="middle">0.5</text>
<text x="363.3" y="912.8" text-anchor="middle">1.0</text>
</g>
<text x="122.4" y="876.4" font-size="8.6" fill="#333"><tspan font-style="italic">P</tspan> = .00001</text>
<g transform="translate(91.3,815.6) rotate(-90) scale(0.95,1)" fill="#333" font-size="10"><text x="0" y="0">-Log<tspan font-size="7" dy="2.5">10</tspan><tspan dy="-2.5" font-style="italic"> P</tspan></text></g>
<text x="0" y="0" transform="translate(213.4,929.4) scale(0.93,1)" font-size="10" fill="#333">Log<tspan font-size="7" dy="2.5">2</tspan><tspan dy="-2.5"> fold change</tspan></text>
<rect x="402.5" y="747.1" width="8" height="7.8" fill="#3a80c0"/>
<text x="414.8" y="753.7" font-size="8.8" fill="#333">Cluster A</text>
<rect x="402.5" y="760.6" width="8" height="7.8" fill="#7ac4dc"/>
<text x="414.8" y="767.2" font-size="8.8" fill="#333">Cluster B</text>
<rect x="402.5" y="774.1" width="8" height="7.8" fill="#2e6a80"/>
<text x="414.8" y="780.7" font-size="8.8" fill="#333">Cluster C</text>
<rect x="402.5" y="787.7" width="8" height="7.8" fill="#8a8fc0"/>
<text x="414.8" y="794.3" font-size="8.8" fill="#333">Cluster D</text>
<rect x="402.5" y="801.2" width="8" height="7.8" fill="#7cc4b4"/>
<text x="414.8" y="807.8" font-size="8.8" fill="#333">Cluster E</text>
<rect x="402.5" y="814.7" width="8" height="7.8" fill="#3a8a80"/>
<text x="414.8" y="821.3" font-size="8.8" fill="#333">Cluster F</text>
<rect x="402.5" y="828.2" width="8" height="7.8" fill="#e4a4bc"/>
<text x="414.8" y="834.8" font-size="8.8" fill="#333">Cluster G</text>
<rect x="402.5" y="841.7" width="8" height="7.8" fill="#c75a78"/>
<text x="414.8" y="848.3" font-size="8.8" fill="#333">Cluster H</text>
<rect x="0.5" y="0.5" width="519" height="943" fill="none" stroke="#2a2a2a" stroke-width="1.2"/>
</svg></body></html>
